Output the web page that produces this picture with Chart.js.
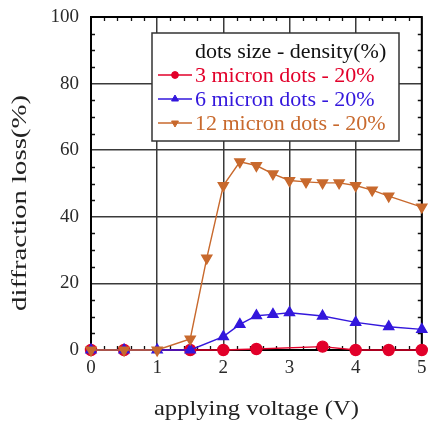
<!DOCTYPE html>
<html>
<head>
<meta charset="utf-8">
<title>Diffraction loss vs applying voltage</title>
<script src="https://cdn.jsdelivr.net/npm/chart.js@4/dist/chart.umd.min.js"></script>
<style>
  html, body { margin: 0; padding: 0; background: #fff; }
  #wrap { width: 429px; height: 424px; }
</style>
</head>
<body>
<div id="wrap"><canvas id="c" width="429" height="424"></canvas></div>
<script>
// Measured diffraction loss (%) against applied voltage (V) for each dot size
const voltage3  = [0, 0.5, 1.5, 2, 2.5, 3.5, 4, 4.5, 5];
const loss3     = [0, 0, 0, 0, 0.3, 1.0, 0, 0, 0];

const voltage6  = [0, 0.5, 1, 1.5, 2, 2.25, 2.5, 2.75, 3, 3.5, 4, 4.5, 5];
const loss6     = [0, 0, 0, 0, 4.0, 7.7, 10.3, 10.7, 11.2, 10.2, 8.3, 7.0, 6.2];

const voltage12 = [0, 0.5, 1, 1.5, 1.75, 2, 2.25, 2.5, 2.75, 3, 3.25, 3.5, 3.75, 4, 4.25, 4.5, 5];
const loss12    = [0, 0, 0, 3.3, 27.6, 49.4, 56.5, 55.4, 52.9, 50.9, 50.5, 50.2, 50.2, 49.4, 48.0, 46.2, 42.9];

const seriesLabels = ['3 micron dots - 20%', '6 micron dots - 20%', '12 micron dots - 20%'];
const legendTitle  = 'dots size - density(%)';
const xTitle = 'applying voltage (V)';
const yTitle = 'diffraction loss(%)';

const RED = '#e2002a', BLUE = '#3317dc', ORANGE = '#c8692d';
const SERIF = '"Liberation Serif", "Times New Roman", serif';

const toPoints = (xs, ys) => xs.map((x, i) => ({ x: x, y: ys[i] }));

// Frame around the plot area plus inward minor ticks on all four sides
const framePlugin = {
  id: 'frame',
  beforeDatasetsDraw(chart) {
    const { ctx, chartArea: a, scales } = chart;
    const xs = scales.x, ys = scales.y;
    ctx.save();
    ctx.strokeStyle = '#111';
    ctx.lineWidth = 1.3;
    const t = 4;
    ctx.beginPath();
    for (let v = 0.2; v < 5; v += 0.2) {
      if (Math.abs(v - Math.round(v)) < 1e-6) continue;
      const px = Math.round(xs.getPixelForValue(v)) + 0.5;
      ctx.moveTo(px, a.bottom); ctx.lineTo(px, a.bottom - t);
      ctx.moveTo(px, a.top);    ctx.lineTo(px, a.top + t);
    }
    for (let v = 5; v < 100; v += 5) {
      if (v % 20 === 0) continue;
      const py = Math.round(ys.getPixelForValue(v)) + 0.5;
      ctx.moveTo(a.left, py);  ctx.lineTo(a.left + t, py);
      ctx.moveTo(a.right, py); ctx.lineTo(a.right - t, py);
    }
    ctx.stroke();
    ctx.strokeStyle = '#000';
    ctx.lineWidth = 2;
    ctx.strokeRect(a.left, a.top, a.right - a.left, a.bottom - a.top);
    ctx.restore();
  }
};

// Axis titles, each stretched along its reading direction to a set length
function drawFittedText(ctx, text, cx, cy, angle, length, font) {
  ctx.save();
  ctx.font = font;
  ctx.fillStyle = '#222';
  ctx.textAlign = 'center';
  ctx.textBaseline = 'middle';
  const w = ctx.measureText(text).width;
  ctx.translate(cx, cy);
  ctx.rotate(angle);
  ctx.scale(length / w, 1);
  ctx.fillText(text, 0, 0);
  ctx.restore();
}
const axisTitlePlugin = {
  id: 'axisTitles',
  afterDraw(chart) {
    const { ctx, chartArea: a } = chart;
    drawFittedText(ctx, xTitle, (a.left + a.right) / 2, 409, 0, 205, '22px ' + SERIF);
    drawFittedText(ctx, yTitle, 20, 203, -Math.PI / 2, 216, '22px ' + SERIF);
  }
};

// Boxed legend with a heading, drawn inside the plot area
const legendBoxPlugin = {
  id: 'legendBox',
  afterDraw(chart) {
    const { ctx } = chart;
    const box = { x: 152, y: 33, w: 247, h: 108 };
    ctx.save();
    ctx.fillStyle = '#fff';
    ctx.fillRect(box.x, box.y, box.w, box.h);
    ctx.strokeStyle = '#333';
    ctx.lineWidth = 1.5;
    ctx.strokeRect(box.x, box.y, box.w, box.h);

    ctx.font = '22px ' + SERIF;
    ctx.textBaseline = 'middle';
    ctx.textAlign = 'left';
    ctx.fillStyle = '#111';
    ctx.fillText(legendTitle, 195, 52);

    chart.data.datasets.forEach((ds, i) => {
      const y = 75 + i * 24;
      ctx.strokeStyle = ds.borderColor;
      ctx.lineWidth = 1.4;
      ctx.beginPath();
      ctx.moveTo(158, y); ctx.lineTo(192, y);
      ctx.stroke();
      ctx.fillStyle = ds.backgroundColor;
      ctx.lineWidth = 1;
      Chart.helpers.drawPoint(ctx, {
        pointStyle: ds.pointStyle,
        radius: ds.pointStyle === 'circle' ? 3.4 : 4,
        rotation: ds.pointRotation || 0,
        borderWidth: 1
      }, 175, y);
      ctx.fillStyle = ds.borderColor;
      ctx.fillText(ds.label, 195, y + 1);
    });
    ctx.restore();
  }
};

new Chart(document.getElementById('c'), {
  type: 'line',
  data: {
    datasets: [
      {
        label: seriesLabels[0],
        data: toPoints(voltage3, loss3),
        borderColor: RED, backgroundColor: RED,
        pointStyle: 'circle', pointRadius: 5.5, borderWidth: 1.4,
        order: 3
      },
      {
        label: seriesLabels[1],
        data: toPoints(voltage6, loss6),
        borderColor: BLUE, backgroundColor: BLUE,
        pointStyle: 'triangle', pointRadius: 5.8, borderWidth: 1.4,
        order: 2
      },
      {
        label: seriesLabels[2],
        data: toPoints(voltage12, loss12),
        borderColor: ORANGE, backgroundColor: ORANGE,
        pointStyle: 'triangle', pointRotation: 180, pointRadius: 5.8, borderWidth: 1.4,
        order: 1
      }
    ]
  },
  options: {
    responsive: false,
    animation: false,
    devicePixelRatio: 1,
    clip: false,
    layout: { padding: { top: 17, right: 5, left: 0, bottom: 0 } },
    elements: {
      line: { tension: 0, fill: false },
      point: { borderWidth: 1, hoverRadius: 5 }
    },
    plugins: {
      legend: { display: false },
      tooltip: { enabled: false }
    },
    scales: {
      x: {
        type: 'linear',
        min: 0, max: 5,
        afterFit(s) { s.height = 74; s.paddingLeft = 0; s.paddingRight = 0; },
        ticks: {
          stepSize: 1, autoSkip: false, maxRotation: 0,
          padding: 7,
          color: '#2a2a2a',
          font: { family: SERIF, size: 19 }
        },
        grid: { color: '#3a3a3a', lineWidth: 1.5, drawTicks: false },
        border: { display: false }
      },
      y: {
        min: 0, max: 100,
        afterFit(s) { s.width = 91; s.paddingTop = 0; s.paddingBottom = 0; },
        ticks: {
          stepSize: 20, autoSkip: false,
          padding: 12,
          color: '#2a2a2a',
          font: { family: SERIF, size: 19 }
        },
        grid: { color: '#3a3a3a', lineWidth: 1.5, drawTicks: false },
        border: { display: false }
      }
    }
  },
  plugins: [framePlugin, axisTitlePlugin, legendBoxPlugin]
});
</script>
</body>
</html>
